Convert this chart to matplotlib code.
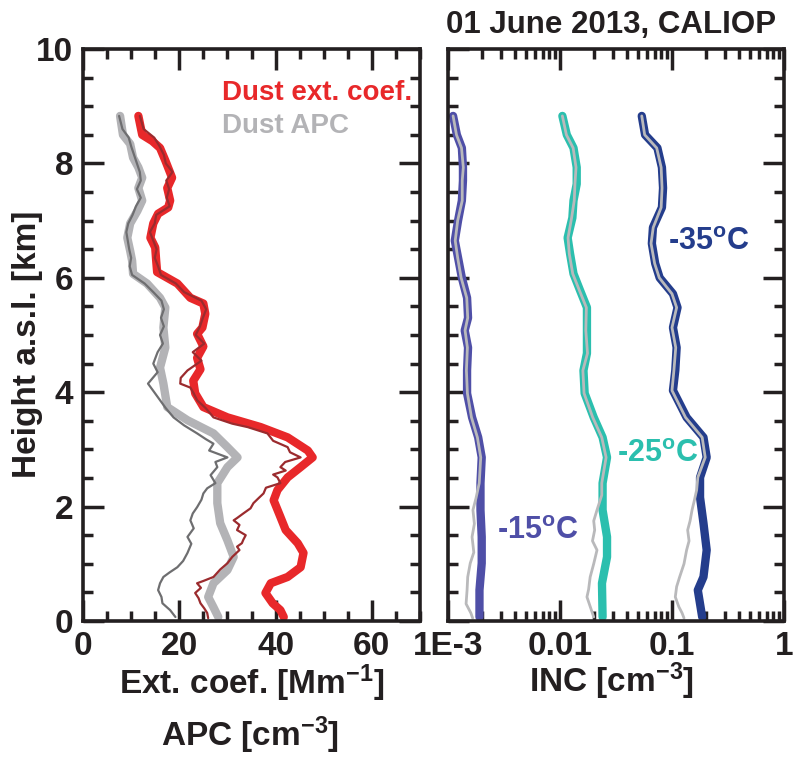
import matplotlib
matplotlib.use("Agg")
import matplotlib.pyplot as plt
from matplotlib.ticker import MultipleLocator

# ---- left panel: dust profiles (height in km) ----
h_ext = [8.83, 8.5, 8.39, 8.27, 8.05, 7.75, 7.57, 7.35, 7.23, 7.12, 6.95, 6.7, 6.53, 6.3, 6.1, 6.0,
         5.9, 5.65, 5.55, 5.37, 5.13, 5.02, 4.8, 4.6, 4.4, 4.2, 3.98, 3.74, 3.56, 3.39, 3.21, 2.98,
         2.86, 2.69, 2.51, 2.29, 2.11, 1.82, 1.59, 1.36, 1.19, 0.94, 0.77, 0.66, 0.49, 0.31, 0.19, 0.07]
ext = [11.5, 12.3, 14.4, 16.0, 17.1, 18.5, 17.5, 18.1, 17.7, 15.6, 14.6, 14.0, 15.0, 15.2, 15.4, 17.5,
       19.6, 22.3, 25.0, 25.4, 24.8, 23.7, 25.0, 23.7, 24.4, 22.9, 23.3, 25.0, 30.0, 36.9, 42.5, 46.7,
       47.7, 45.2, 42.5, 40.4, 39.6, 41.0, 42.1, 44.6, 45.8, 45.2, 42.5, 39.0, 37.9, 39.4, 41.0, 41.7]

h_ext2 = [8.83, 8.6, 8.45, 8.3, 8.15, 8.0, 7.85, 7.7, 7.55, 7.4, 7.25, 7.1, 6.95, 6.8, 6.65, 6.5,
          6.35, 6.2, 6.05, 5.9, 5.75, 5.6, 5.45, 5.3, 5.15, 5.0, 4.85, 4.7, 4.55, 4.38, 4.25, 4.15,
          4.08, 3.98, 3.86, 3.72, 3.56, 3.45, 3.39, 3.28, 3.15, 3.04, 2.95, 2.86, 2.78, 2.69, 2.63,
          2.56, 2.51, 2.41, 2.33, 2.23, 2.15, 2.06, 1.97, 1.88, 1.80, 1.76, 1.68, 1.59, 1.50, 1.42,
          1.36, 1.30, 1.24, 1.12, 1.01, 0.90, 0.77, 0.70, 0.66, 0.58, 0.49, 0.40, 0.31, 0.22, 0.14, 0.05]
ext2 = [11.8, 12.6, 14.8, 15.9, 16.8, 17.2, 18.6, 17.3, 17.9, 17.4, 18.0, 15.2, 14.9, 13.9, 14.6, 15.3,
        14.9, 15.6, 16.2, 19.3, 21.0, 24.6, 25.6, 24.9, 24.3, 23.4, 25.2, 22.8, 24.6, 21.7, 20.3, 20.2,
        22.3, 23.0, 23.7, 25.5, 27.1, 31.0, 34.2, 38.3, 39.5, 42.5, 43.0, 45.2, 42.0, 41.0, 42.1,
        39.5, 40.4, 41.0, 38.0, 37.5, 36.5, 35.4, 34.8, 33.3, 32.0, 31.3, 32.5, 32.0, 33.8, 33.3,
        33.0, 32.0, 32.5, 31.0, 30.0, 28.5, 27.1, 25.0, 23.7, 24.5, 23.3, 24.0, 24.4, 25.2, 25.8, 26.0]

h_apc = [8.83, 8.5, 8.34, 8.1, 7.93, 7.75, 7.57, 7.35, 7.17, 6.95, 6.7, 6.47, 6.3, 6.07, 5.9, 5.65,
         5.48, 5.13, 4.78, 4.43, 4.15, 3.74, 3.51, 3.28, 3.04, 2.86, 2.69, 2.41, 2.06, 1.71, 1.41,
         1.12, 0.89, 0.66, 0.42, 0.24, 0.07]
apc = [7.7, 8.3, 9.8, 10.4, 11.5, 12.3, 11.5, 12.3, 11.3, 9.8, 9.2, 9.8, 10.2, 10.4, 13.3, 16.0,
       17.1, 16.7, 17.1, 16.0, 16.7, 17.5, 21.7, 27.1, 30.0, 32.1, 30.0, 27.9, 27.9, 28.5, 30.0,
       31.3, 30.0, 27.1, 26.0, 27.1, 28.1]

h_apc2 = [8.83, 8.6, 8.45, 8.3, 8.15, 8.0, 7.85, 7.7, 7.55, 7.4, 7.25, 7.1, 6.95, 6.8, 6.65, 6.5,
          6.35, 6.2, 6.05, 5.9, 5.75, 5.6, 5.45, 5.3, 5.15, 5.0, 4.85, 4.7, 4.5, 4.35, 4.15, 4.0,
          3.86, 3.72, 3.56, 3.42, 3.28, 3.18, 3.10, 2.98, 2.86, 2.78, 2.69, 2.55, 2.41, 2.32, 2.23,
          2.12, 1.99, 1.88, 1.76, 1.62, 1.47, 1.35, 1.19, 1.05, 0.94, 0.85, 0.77, 0.66, 0.54, 0.42,
          0.31, 0.19, 0.07]
apc2 = [7.5, 8.2, 9.5, 10.0, 10.6, 11.2, 11.8, 12.0, 11.2, 12.0, 11.0, 10.3, 9.4, 9.0, 9.3, 9.6,
        10.0, 9.7, 10.2, 12.8, 14.6, 16.3, 16.8, 16.2, 16.8, 16.0, 16.6, 15.5, 14.6, 15.5, 13.5, 14.8,
        16.0, 17.2, 18.8, 21.0, 23.7, 25.5, 27.1, 26.2, 30.0, 27.5, 27.9, 26.5, 27.5, 25.8, 25.0,
        24.6, 23.7, 22.8, 22.3, 23.0, 21.7, 22.5, 21.7, 20.8, 19.6, 18.0, 16.7, 16.0, 15.6, 16.3,
        16.5, 18.1, 19.2]

# ---- right panel: INC at three temperatures ----
h15 = [8.83, 8.5, 8.27, 7.93, 7.7, 7.35, 7.0, 6.65, 6.35, 6.0, 5.65, 5.3, 5.08, 4.78, 4.38, 3.98,
       3.56, 3.21, 2.86, 2.41, 1.94, 1.47, 1.01, 0.54, 0.07]
inc15 = [0.00111, 0.00120, 0.00133, 0.00136, 0.00136, 0.00133, 0.00123, 0.00115, 0.00123, 0.00133,
         0.00148, 0.00151, 0.00141, 0.00151, 0.00148, 0.00148, 0.00164, 0.00186, 0.00200, 0.00195,
         0.00195, 0.00200, 0.00200, 0.00191, 0.00191]
h15g = [8.83, 8.5, 8.27, 7.93, 7.7, 7.35, 7.0, 6.65, 6.35, 6.0, 5.65, 5.3, 5.08, 4.78, 4.38, 3.98,
        3.56, 3.21, 2.86, 2.41, 2.15, 1.94, 1.7, 1.47, 1.2, 1.01, 0.77, 0.54, 0.3, 0.14, 0.05]
inc15g = [0.00111, 0.00119, 0.00132, 0.00137, 0.00134, 0.00134, 0.00122, 0.00116, 0.00122, 0.00131,
          0.00147, 0.00150, 0.00142, 0.00149, 0.00146, 0.00149, 0.00162, 0.00183, 0.00196, 0.00190,
          0.00178, 0.00167, 0.00172, 0.00164, 0.00170, 0.00158, 0.00150, 0.00148, 0.00145, 0.00160,
          0.00166]

h25 = [8.83, 8.5, 8.27, 7.93, 7.64, 7.35, 7.05, 6.7, 6.42, 6.07, 5.78, 5.48, 5.08, 4.68, 4.38, 3.98,
       3.56, 3.21, 2.86, 2.41, 1.94, 1.47, 1.12, 0.66, 0.07]
inc25 = [0.0105, 0.0115, 0.0132, 0.0141, 0.0141, 0.0132, 0.0129, 0.0117, 0.0123, 0.0132, 0.0151,
         0.0174, 0.0174, 0.0174, 0.0162, 0.0166, 0.0200, 0.0240, 0.0263, 0.0240, 0.0240, 0.0263,
         0.0263, 0.0237, 0.0240]
h25g = [8.83, 8.5, 8.27, 7.93, 7.64, 7.35, 7.05, 6.7, 6.42, 6.07, 5.78, 5.48, 5.08, 4.68, 4.38, 3.98,
        3.56, 3.21, 2.86, 2.41, 2.2, 1.94, 1.75, 1.59, 1.4, 1.24, 1.0, 0.77, 0.55, 0.42, 0.2, 0.07]
inc25g = [0.0105, 0.0114, 0.0131, 0.0139, 0.0136, 0.0134, 0.0127, 0.0118, 0.0121, 0.0130, 0.0149,
          0.0172, 0.0170, 0.0176, 0.0160, 0.0164, 0.0196, 0.0236, 0.0258, 0.0236, 0.0236, 0.0214,
          0.0200, 0.0204, 0.0195, 0.0214, 0.0200, 0.0186, 0.0180, 0.0174, 0.0190, 0.0200]

h35 = [8.83, 8.5, 8.27, 7.93, 7.57, 7.23, 6.88, 6.6, 6.25, 6.0, 5.72, 5.48, 5.13, 4.78, 4.38, 4.03,
       3.56, 3.21, 2.86, 2.51, 2.16, 1.71, 1.24, 0.77, 0.54, 0.07]
inc35 = [0.0537, 0.0575, 0.0741, 0.0813, 0.0832, 0.0813, 0.0676, 0.0661, 0.0708, 0.0776, 0.102,
         0.112, 0.102, 0.110, 0.107, 0.102, 0.135, 0.191, 0.204, 0.178, 0.178, 0.191, 0.204, 0.191,
         0.170, 0.186]
h35g = [8.83, 8.5, 8.27, 7.93, 7.57, 7.23, 6.88, 6.6, 6.25, 6.0, 5.72, 5.48, 5.13, 4.78, 4.38, 4.03,
        3.56, 3.21, 2.86, 2.51, 2.29, 2.1, 1.94, 1.75, 1.59, 1.4, 1.24, 1.0, 0.77, 0.6, 0.42, 0.25,
        0.14, 0.05]
inc35g = [0.0537, 0.0570, 0.0730, 0.0800, 0.0815, 0.0800, 0.0680, 0.0650, 0.0700, 0.0770, 0.100,
          0.110, 0.100, 0.108, 0.104, 0.100, 0.132, 0.186, 0.198, 0.170, 0.166, 0.158, 0.151, 0.145,
          0.138, 0.142, 0.135, 0.128, 0.117, 0.110, 0.107, 0.115, 0.123, 0.128]

plt.rcParams['font.family'] = ['Liberation Sans', 'DejaVu Sans']
plt.rcParams['font.weight'] = 'bold'
plt.rcParams['mathtext.fontset'] = 'custom'
plt.rcParams['mathtext.rm'] = 'Liberation Sans:bold'
plt.rcParams['mathtext.it'] = 'Liberation Sans:bold'
plt.rcParams['mathtext.bf'] = 'Liberation Sans:bold'
plt.rcParams['mathtext.default'] = 'regular'

fig = plt.figure(figsize=(7.95, 7.61), dpi=100)
W, H = 795.0, 761.0
ax1 = fig.add_axes([83 / W, 1 - 621 / H, 337 / W, 572 / H])
ax2 = fig.add_axes([448 / W, 1 - 621 / H, 336 / W, 572 / H])

red, dred = '#e8282a', '#9b2b2e'
lgray, dgray = '#b3b3b6', '#6e6e70'
c15, c25, c35 = '#4f4fa7', '#2bbfae', '#243d8c'

kw = dict(solid_capstyle='round', solid_joinstyle='round')
ax1.plot(apc, h_apc, color=lgray, lw=6, **kw)
ax1.plot(apc2, h_apc2, color=dgray, lw=1.6, **kw)
ax1.plot(ext, h_ext, color=red, lw=6, **kw)
ax1.plot(ext2, h_ext2, color=dred, lw=1.6, **kw)

for hh, vv, hg, vg, c in [(h15, inc15, h15g, inc15g, c15),
                          (h25, inc25, h25g, inc25g, c25),
                          (h35, inc35, h35g, inc35g, c35)]:
    ax2.plot(vv, hh, color=c, lw=6, **kw)
    ax2.plot(vg, hg, color='#b9b9bb', lw=2, **kw)

for ax in (ax1, ax2):
    ax.set_ylim(0, 10)
    ax.yaxis.set_major_locator(MultipleLocator(2))
    ax.yaxis.set_minor_locator(MultipleLocator(0.5))
    ax.tick_params(which='both', direction='in', top=True, right=True, width=2.5,
                   labelsize=24, color='#231f20', labelcolor='#231f20')
    ax.tick_params(which='major', length=15, pad=7)
    ax.tick_params(which='minor', length=7)
    for s in ax.spines.values():
        s.set_linewidth(2.6)
        s.set_color('#231f20')

ax1.set_xlim(0, 70)
ax1.xaxis.set_major_locator(MultipleLocator(20))
ax1.xaxis.set_minor_locator(MultipleLocator(5))

ax2.set_xscale('log')
ax2.set_xlim(1e-3, 1)
ax2.set_xticks([1e-3, 1e-2, 1e-1, 1], ['1E-3', '0.01', '0.1', '1'])
ax2.tick_params(axis='y', labelleft=False)

ax1.text(28.9, 9.23, 'Dust ext. coef.', color=red, fontsize=20, fontweight='bold', va='center')
ax1.text(28.9, 8.65, 'Dust APC', color=lgray, fontsize=20, fontweight='bold', va='center')

ax2.text(0.092, 6.62, '-35$^{o}$C', color=c35, fontsize=22, va='center')
ax2.text(0.0324, 2.92, '-25$^{o}$C', color=c25, fontsize=22, va='center')
ax2.text(0.00274, 1.57, '-15$^{o}$C', color=c15, fontsize=22, va='center')

tc = '#231f20'
fig.text(611 / W, 1 - 25 / H, '01 June 2013, CALIOP', ha='center', va='center',
         fontsize=22.5, color=tc)
fig.text(28 / W, 1 - 344 / H, 'Height a.s.l. [km]', rotation=90, ha='center', va='center',
         fontsize=24, color=tc)
fig.text(252 / W, 1 - 683 / H, 'Ext. coef. [Mm$^{-1}$]', ha='center', va='center',
         fontsize=24, color=tc)
fig.text(250 / W, 1 - 735 / H, 'APC [cm$^{-3}$]', ha='center', va='center',
         fontsize=24, color=tc)
fig.text(612 / W, 1 - 681 / H, 'INC [cm$^{-3}$]', ha='center', va='center',
         fontsize=24, color=tc)

fig.savefig('out.png', dpi=100)
